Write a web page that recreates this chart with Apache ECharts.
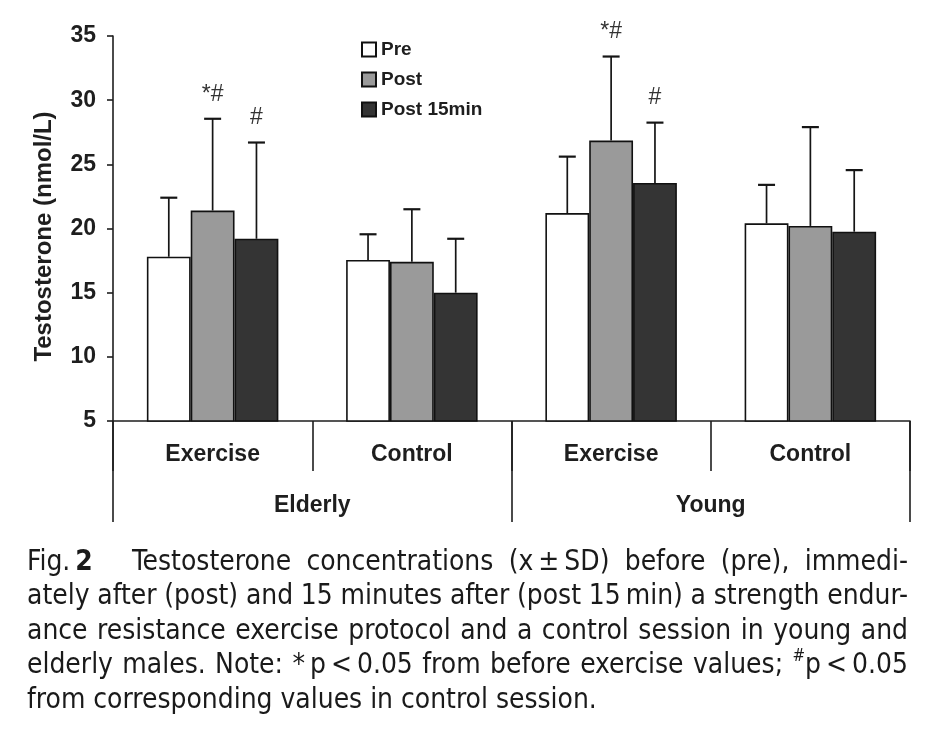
<!DOCTYPE html>
<html><head><meta charset="utf-8">
<script src="https://cdn.jsdelivr.net/npm/echarts@6/dist/echarts.min.js"></script>
<style>html,body{margin:0;padding:0;background:#fff}#c{width:936px;height:732px}</style>
</head><body><div id="c"></div>
<script>
// ---- data ----
const categories = ['Exercise', 'Control', 'Exercise', 'Control'];
const groups = ['Elderly', 'Young'];
const seriesNames = ['Pre', 'Post', 'Post 15min'];
const preMean = [17.8, 17.55, 21.2, 20.4];
const preSD = [4.6, 2.0, 4.4, 3.0];
const postMean = [21.4, 17.4, 26.85, 20.2];
const postSD = [7.15, 4.1, 6.55, 7.7];
const post15Mean = [19.2, 15.0, 23.55, 19.75];
const post15SD = [7.5, 4.2, 4.7, 4.8];
const postSig = ['*#', '', '*#', ''];
const post15Sig = ['#', '', '#', ''];
const yMin = 5, yMax = 35, yStep = 5;
const yTitle = 'Testosterone (nmol/L)';
const captionLines = [
  'Fig. 2 | Testosterone concentrations (x\u2009\u00b1\u2009SD) before (pre), immedi-',
  'ately after (post) and 15 minutes after (post 15\u2009min) a strength endur-',
  'ance resistance exercise protocol and a control session in young and',
  'elderly males. Note: *\u2009p\u2009<\u20090.05 from before exercise values; #p\u2009<\u20090.05',
  'from corresponding values in control session.'
];

// ---- styles ----
const AX = '"Liberation Sans", Arial, sans-serif';
const INK = '#1e1e1e';
const GAP = 0.34;
const colors = ['#ffffff', '#9a9a9a', '#343434'];

const chart = echarts.init(document.getElementById('c'), null, {renderer: 'canvas'});

function barSeries(k, vals) {
  return {
    type: 'bar', name: seriesNames[k], data: vals, xAxisIndex: 0,
    barGap: '0%', barCategoryGap: (GAP * 100) + '%',
    itemStyle: {color: colors[k], borderColor: '#111', borderWidth: 1.6},
    emphasis: {disabled: true}, z: 2
  };
}
function errSeries(k, means, sds, sigs) {
  return {
    type: 'custom', name: seriesNames[k] + ' SD', xAxisIndex: 0, z: 5,
    data: means.map((m, i) => [i, m, sds[i]]),
    encode: {x: 0, y: 1},
    renderItem(params, api) {
      const i = api.value(0), m = api.value(1), sd = api.value(2);
      const base = api.coord([i, m]);
      const top = api.coord([i, m + sd]);
      const band = api.size([1, 0])[0];
      const bw = band * (1 - GAP) / 3;
      const x = base[0] + (k - 1) * bw;
      const ch = [
        {type: 'line', shape: {x1: x, y1: base[1], x2: x, y2: top[1]}, style: {stroke: '#151515', lineWidth: 1.7}},
        {type: 'line', shape: {x1: x - 8.5, y1: top[1], x2: x + 8.5, y2: top[1]}, style: {stroke: '#151515', lineWidth: 2.2}}
      ];
      const s = sigs ? sigs[i] : '';
      if (s) ch.push({type: 'text', x: x, y: top[1] - 13,
        style: {text: s, align: 'center', verticalAlign: 'bottom', fontSize: 23, fontFamily: AX, fill: '#333'}});
      return {type: 'group', children: ch};
    }
  };
}

// ---- caption layout (justified) ----
const mctx = document.createElement('canvas').getContext('2d');
function hasFont(f) {
  const s = 'abcdefghijklmnopqrstuvwxyz ABCDEFG 0123456789';
  mctx.font = '40px monospace'; const a = mctx.measureText(s).width;
  mctx.font = '40px "' + f + '", monospace'; const b = mctx.measureText(s).width;
  return Math.abs(a - b) > 0.5;
}
const capCandidates = ['DejaVu Sans Condensed', 'Liberation Sans Narrow', 'Open Sans', 'Noto Sans'];
const capFam = capCandidates.find(hasFont) || 'sans-serif';
const CAPFAM = '"' + capFam + '", sans-serif';
function mw(t, size, bold) { mctx.font = (bold ? 'bold ' : '') + size + 'px ' + CAPFAM; return mctx.measureText(t).width; }
let capSize = 28 * 570 / mw(captionLines[4], 28, false);
capSize = Math.max(20, Math.min(30, capSize));
const L = 27, R = 908;
const baselines = [572.5, 606.5, 641, 675.5, 710.5];
const graphics = [];
function wordRuns(w) {
  if (w.startsWith('#')) return [{t: '#', sup: true}, {t: w.slice(1)}];
  return [{t: w}];
}
function runsWidth(runs) { return runs.reduce((s, r) => s + mw(r.t, r.sup ? capSize * 0.6 : capSize, r.b), 0); }
function drawWords(words, x0, x1, justify, yc) {
  const rs = words.map(wordRuns);
  const ws = rs.map(runsWidth);
  const sum = ws.reduce((a, b) => a + b, 0);
  const gap = justify && words.length > 1 ? (x1 - x0 - sum) / (words.length - 1) : mw(' ', capSize, false);
  let x = x0;
  rs.forEach((runs, j) => {
    let xx = x;
    runs.forEach(r => {
      const fs = r.sup ? capSize * 0.6 : capSize;
      graphics.push({type: 'text', x: xx, y: yc + (r.sup ? -capSize * 0.33 : 0), silent: true,
        style: {text: r.t, fontSize: fs, fontFamily: CAPFAM, fontWeight: r.b ? 'bold' : 'normal', fill: '#1a1a1a', align: 'left', verticalAlign: 'middle'}});
      xx += mw(r.t, fs, r.b);
    });
    x += ws[j] + gap;
  });
}
captionLines.forEach((line, li) => {
  const yc = baselines[li] - 0.3465 * capSize;
  if (li === 0) {
    const parts = line.split(' | ');
    const head = parts[0];
    const fw = mw('Fig.', capSize, false);
    graphics.push({type: 'text', x: L, y: yc, silent: true, style: {text: 'Fig.', fontSize: capSize, fontFamily: CAPFAM, fill: '#1a1a1a', verticalAlign: 'middle'}});
    graphics.push({type: 'text', x: L + fw + 5, y: yc, silent: true, style: {text: head.split(' ')[1], fontSize: capSize, fontWeight: 'bold', fontFamily: CAPFAM, fill: '#1a1a1a', verticalAlign: 'middle'}});
    drawWords(parts[1].split(' '), 132, R, true, yc);
  } else {
    drawWords(line.split(' '), L, R, li < 4, yc);
  }
});

const option = {
  backgroundColor: '#ffffff',
  animation: false,
  textStyle: {fontFamily: AX},
  grid: {left: 113, right: 26, top: 36, bottom: 311, containLabel: false},
  legend: {
    data: seriesNames, orient: 'vertical', left: 361, top: 40, padding: 0,
    itemWidth: 14, itemHeight: 14, itemGap: 11, icon: 'rect', selectedMode: false,
    textStyle: {fontSize: 19, fontWeight: 'bold', color: INK, fontFamily: AX}
  },
  xAxis: [
    {
      type: 'category', data: categories, position: 'bottom',
      axisLine: {show: true, lineStyle: {color: INK, width: 1.6}},
      axisTick: {show: true, interval: 0, length: 50, lineStyle: {color: INK, width: 1.6}},
      axisLabel: {interval: 0, margin: 22, fontSize: 23, fontWeight: 'bold', color: INK, fontFamily: AX},
      splitLine: {show: false}
    },
    {
      type: 'category', data: groups, position: 'bottom', offset: 0,
      axisLine: {show: false},
      axisTick: {show: true, interval: 0, length: 101, lineStyle: {color: INK, width: 1.6}},
      axisLabel: {interval: 0, margin: 73, fontSize: 23, fontWeight: 'bold', color: INK, fontFamily: AX},
      splitLine: {show: false}
    }
  ],
  yAxis: {
    type: 'value', min: yMin, max: yMax, interval: yStep,
    name: yTitle, nameLocation: 'middle', nameGap: 57,
    nameTextStyle: {fontSize: 24, fontWeight: 'bold', color: INK, fontFamily: AX, padding: [0, 16, 0, 0]},
    axisLine: {show: true, lineStyle: {color: INK, width: 1.6}},
    axisTick: {show: true, length: 6, lineStyle: {color: INK, width: 1.6}},
    axisLabel: {margin: 17, fontSize: 23, fontWeight: 'bold', color: INK, fontFamily: AX},
    splitLine: {show: false}
  },
  series: [
    barSeries(0, preMean), barSeries(1, postMean), barSeries(2, post15Mean),
    errSeries(0, preMean, preSD, null),
    errSeries(1, postMean, postSD, postSig),
    errSeries(2, post15Mean, post15SD, post15Sig)
  ],
  graphic: graphics
};
chart.setOption(option);
</script>
</body></html>
